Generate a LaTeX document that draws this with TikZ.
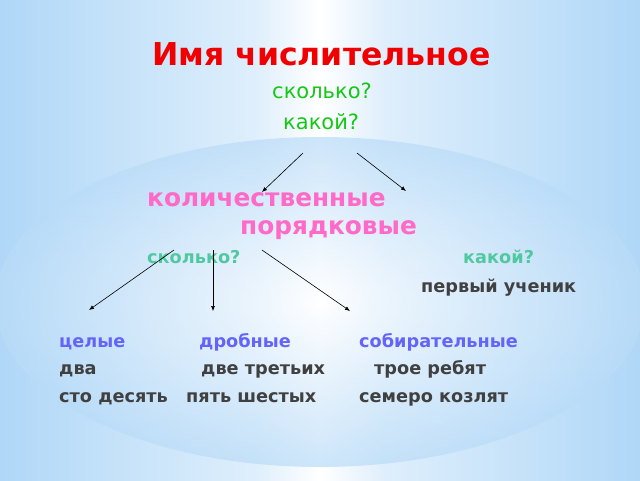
\documentclass[tikz,border=0pt]{standalone}
\usepackage{fontspec}
\setmainfont{DejaVu Sans}
\usetikzlibrary{arrows.meta}

\definecolor{sky}{RGB}{162,208,246}
\definecolor{titlered}{RGB}{240,0,0}
\definecolor{askgreen}{RGB}{20,200,20}
\definecolor{kindpink}{RGB}{255,105,200}
\definecolor{askteal}{RGB}{80,200,160}
\definecolor{subblue}{RGB}{100,100,250}
\definecolor{exgray}{RGB}{64,64,64}

\pgfdeclarehorizontalshading{skyband}{100bp}{color(0bp)=(sky); color(25bp)=(sky!85!white);
  color(45bp)=(sky!35!white); color(50bp)=(white); color(55bp)=(sky!35!white);
  color(75bp)=(sky!85!white); color(100bp)=(sky)}

\tikzset{
  word/.style={anchor=base west, inner sep=0pt, font=\bfseries\fontsize{17.7}{20}\selectfont},
  arr/.style={-{Latex[length=5pt,width=4pt]}, black, line width=0.6pt}
}

\begin{document}
\begin{tikzpicture}[x=1pt,y=-1pt]
    \useasboundingbox (0,0) rectangle (640,480);
    % background
    \shade[shading=skyband] (0,0) rectangle (640,480);
    \shade[inner color=white, outer color=sky!75!white, opacity=0.7] (320,302) ellipse (325 and 165);
    %
    \node (title) at (152,65) [word, text=titlered, font=\bfseries\fontsize{31.5}{36}\selectfont] {Имя числительное};
    \node (q1) at (272,98) [word, text=askgreen, font=\fontsize{21}{24}\selectfont] {сколько?};
    \node (q2) at (283,129) [word, text=askgreen, font=\fontsize{21}{24}\selectfont] {какой?};
    \node (card) at (147,206) [word, text=kindpink, font=\bfseries\fontsize{24.8}{28}\selectfont] {количественные};
    \node (ord) at (240,234) [word, text=kindpink, font=\bfseries\fontsize{24.8}{28}\selectfont] {порядковые};
    \node (q3) at (147,263) [word, text=askteal] {сколько?};
    \node (q4) at (463,263) [word, text=askteal] {какой?};
    \node (first) at (421,292) [word, text=exgray] {первый ученик};
    %
    \node (whole) at (59,347) [word, text=subblue] {целые};
    \node (frac) at (199,347) [word, text=subblue] {дробные};
    \node (coll) at (359,347) [word, text=subblue] {собирательные};
    \node (two) at (59,374) [word, text=exgray] {два};
    \node (twothirds) at (201,374) [word, text=exgray] {две третьих};
    \node (three) at (374,374) [word, text=exgray] {трое ребят};
    \node (hundred) at (59,402) [word, text=exgray] {сто десять};
    \node (fivesix) at (186,402) [word, text=exgray] {пять шестых};
    \node (seven) at (359,402) [word, text=exgray] {семеро козлят};
    %
    \coordinate (a1) at (303,153);
    \coordinate (a2) at (262,192);
    \coordinate (b1) at (357,153);
    \coordinate (b2) at (406,191);
    \coordinate (c0) at (174,250);
    \coordinate (c1) at (89,310);
    \coordinate (d0) at (213,250);
    \coordinate (d1) at (213,311);
    \coordinate (e0) at (262,250);
    \coordinate (e1) at (350,311);
    \draw[arr] (a1) -- (a2);
    \draw[arr] (b1) -- (b2);
    \draw[arr] (c0) -- (c1);
    \draw[arr] (d0) -- (d1);
    \draw[arr] (e0) -- (e1);
  \end{tikzpicture}
\end{document}
